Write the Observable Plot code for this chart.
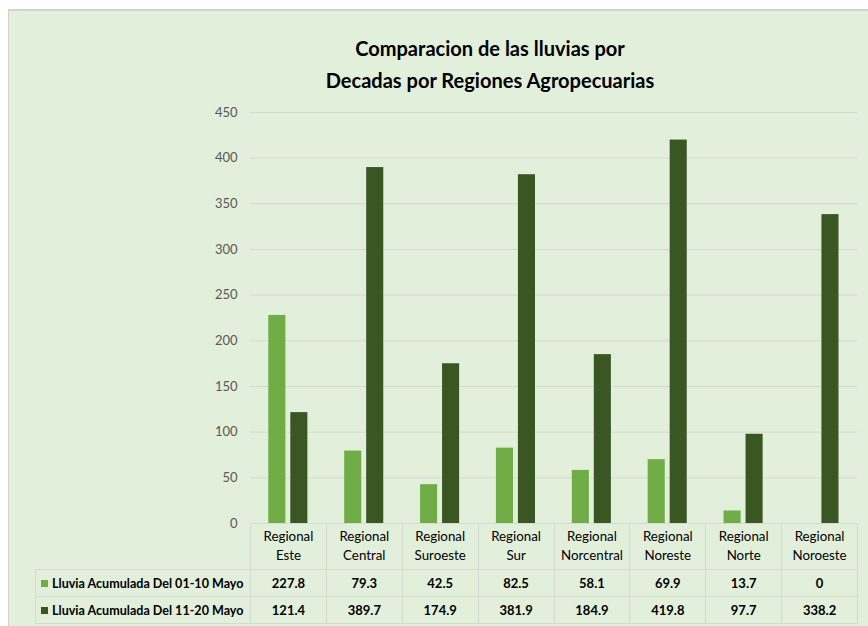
<!DOCTYPE html>
<html>
<head>
<meta charset="utf-8">
<script src="https://cdn.jsdelivr.net/npm/d3@7"></script>
<script src="https://cdn.jsdelivr.net/npm/@observablehq/plot@0.6"></script>
<style>
  html, body { margin: 0; padding: 0; background: #ffffff; width: 868px; height: 626px; overflow: hidden; }
  body { position: relative; font-family: Lato, sans-serif; }
  #frame { position: absolute; left: 8px; top: 9px; width: 880px; height: 640px; background: #e2efda;
           border-left: 1px solid #d2d2d2; border-top: 2px solid #d2d2d2; box-sizing: border-box; }
  #title { position: absolute; left: 290px; width: 400px; top: 32px; text-align: center;
           font-weight: bold; line-height: 32px; color: #000; white-space: nowrap; }
  #chart { position: absolute; left: 0; top: 0; }
  #table { position: absolute; border-collapse: collapse; table-layout: fixed; color: #000; }
  #table td { border: 1px solid #d3dacf; padding: 0; text-align: center; white-space: nowrap; overflow: visible; }
  #table tr.head td { height: 46px; line-height: 19px; border-top: none; }
  #table tr.head td.blank { border: none; }
  #table tr.row td { height: 26px; font-weight: bold; }
  #table td.lab { text-align: left; padding-left: 5px; }
  .key { display: inline-block; width: 7px; height: 7px; margin-right: 4px; vertical-align: 1px; }
</style>
</head>
<body>
<div id="frame"></div>
<div id="title"><span id="t1">Comparacion de las lluvias por</span><br><span id="t2">Decadas por Regiones Agropecuarias</span></div>
<div id="chart"></div>
<table id="table"></table>
<script>
const regions = ["Regional Este","Regional Central","Regional Suroeste","Regional Sur","Regional Norcentral","Regional Noreste","Regional Norte","Regional Noroeste"];
const series = ["Lluvia Acumulada Del 01-10 Mayo","Lluvia Acumulada Del 11-20 Mayo"];
const lluvia0110 = [227.8, 79.3, 42.5, 82.5, 58.1, 69.9, 13.7, 0];
const lluvia1120 = [121.4, 389.7, 174.9, 381.9, 184.9, 419.8, 97.7, 338.2];
const valueLabels0110 = ["227.8","79.3","42.5","82.5","58.1","69.9","13.7","0"];
const valueLabels1120 = ["121.4","389.7","174.9","381.9","184.9","419.8","97.7","338.2"];
const yTicks = [0, 50, 100, 150, 200, 250, 300, 350, 400, 450];
const colors = ["#70ad47", "#3a5723"];

const FONT = "Lato, sans-serif";

// font sizes fitted so that text widths match the reference's (Calibri-like) widths
const ctx = document.createElement("canvas").getContext("2d");
function fit(text, weight, target) {
  ctx.font = `${weight} 100px ${FONT}`;
  return +(100 * target / ctx.measureText(text).width).toFixed(2);
}
const titleSize = Math.min(fit("Comparacion de las lluvias por", "bold", 275), fit("Decadas por Regiones Agropecuarias", "bold", 330));
const tickSize = Math.max(13, fit("200", "normal", 21));
const headSize = fit("Norcentral", "normal", 62);
const labSize = fit("Lluvia Acumulada Del 01-10 Mayo", "bold", 192);
const valSize = Math.max(13, fit("227.8", "bold", 33));

document.getElementById("title").style.fontSize = titleSize + "px";

const rows0110 = regions.map((r, i) => ({region: r, value: lluvia0110[i]}));
const rows1120 = regions.map((r, i) => ({region: r, value: lluvia1120[i]}));

const plot = Plot.plot({
  width: 868,
  height: 540,
  marginLeft: 250,
  marginRight: 11,
  marginTop: 112,
  marginBottom: 17,
  style: {background: "transparent", fontFamily: FONT, fontSize: tickSize + "px"},
  x: {domain: regions, padding: 0, round: false, axis: null},
  y: {domain: [0, 450], ticks: yTicks},
  marks: [
    Plot.gridY(yTicks, {stroke: "#d6d9d3", strokeOpacity: 1}),
    Plot.axisY(yTicks, {tickSize: 0, tickPadding: 13, fill: "#595959", fontSize: tickSize, label: null}),
    Plot.ruleY([0], {stroke: "#d3dacf"}),
    Plot.barY(rows0110, {x: "region", y: "value", fill: colors[0], insetLeft: 18.3, insetRight: 40.5}),
    Plot.barY(rows1120, {x: "region", y: "value", fill: colors[1], insetLeft: 40.3, insetRight: 18.5})
  ]
});
document.getElementById("chart").appendChild(plot);

// Data table aligned with the plot's x band scale
const xs = plot.scale("x");
const step = xs.step;
const x0 = xs.apply(regions[0]);
const labelLeft = 35;
const table = document.getElementById("table");
table.style.left = labelLeft + "px";
table.style.top = "523px";
table.style.width = (x0 - labelLeft + step * regions.length) + "px";

const colgroup = document.createElement("colgroup");
const c0 = document.createElement("col"); c0.style.width = (x0 - labelLeft) + "px"; colgroup.appendChild(c0);
regions.forEach(() => { const c = document.createElement("col"); c.style.width = step + "px"; colgroup.appendChild(c); });
table.appendChild(colgroup);

const head = document.createElement("tr"); head.className = "head";
const blank = document.createElement("td"); blank.className = "blank"; head.appendChild(blank);
regions.forEach(r => {
  const td = document.createElement("td");
  const parts = r.split(" ");
  td.innerHTML = parts[0] + "<br>" + parts.slice(1).join(" ");
  td.style.fontSize = headSize + "px";
  head.appendChild(td);
});
table.appendChild(head);

[[series[0], valueLabels0110, colors[0]], [series[1], valueLabels1120, colors[1]]].forEach(([name, vals, col]) => {
  const tr = document.createElement("tr"); tr.className = "row";
  const lab = document.createElement("td"); lab.className = "lab";
  lab.style.fontSize = labSize + "px";
  lab.innerHTML = `<span class="key" style="background:${col}"></span>` + name;
  tr.appendChild(lab);
  vals.forEach(v => { const td = document.createElement("td"); td.textContent = v; td.style.fontSize = valSize + "px"; tr.appendChild(td); });
  table.appendChild(tr);
});
</script>
</body>
</html>
